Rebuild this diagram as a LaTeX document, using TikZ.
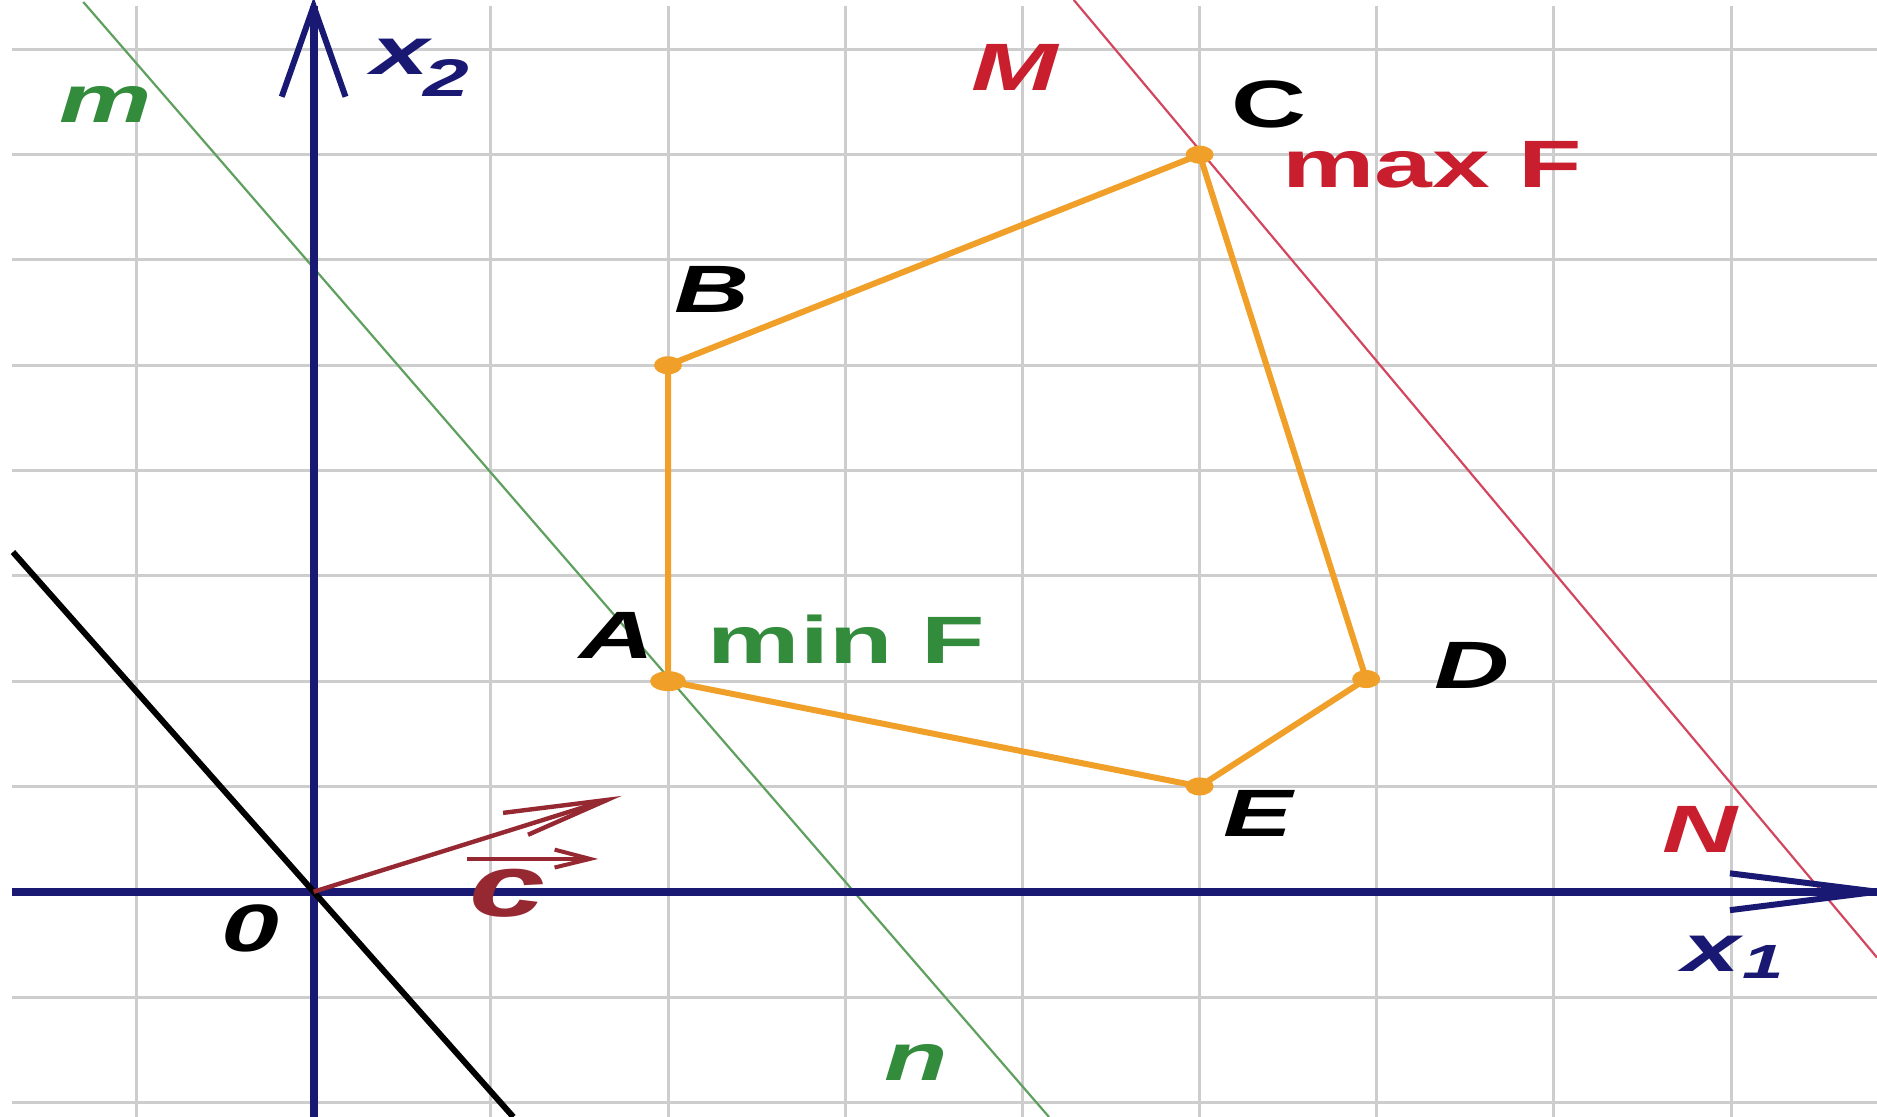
\documentclass[tikz,border=0pt]{standalone}
\usepackage{fontspec}
\setmainfont{Liberation Sans}
\definecolor{navy}{RGB}{25,25,115}
\definecolor{gridgray}{RGB}{205,205,205}
\definecolor{lgreen}{RGB}{95,160,95}
\definecolor{tgreen}{RGB}{50,140,60}
\definecolor{lred}{RGB}{210,70,95}
\definecolor{tred}{RGB}{200,30,45}
\definecolor{vecred}{RGB}{150,40,50}
\definecolor{poly}{RGB}{240,160,40}
\newcommand\sx[1]{\scalebox{1.55}[1]{#1}}
\tikzset{
  gridline/.style={gridgray,line width=1.5pt},
  axisline/.style={navy,line width=4pt},
  lab/.style={inner sep=0pt,font=\fontsize{33.5}{40}\selectfont\bfseries\itshape},
  labup/.style={inner sep=0pt,font=\fontsize{33.5}{40}\selectfont\bfseries},
  vertexdot/.style={fill=poly},
}
\begin{document}
\begin{tikzpicture}[x=88.6pt,y=52.65pt,line cap=butt]
\useasboundingbox (-1.770,-2.139) rectangle (8.823,8.469);
\fill[white] (-1.770,-2.139) rectangle (8.823,8.469);
% grid
\foreach \i in {-1,...,8} \draw[gridline] (\i,-2.139) -- (\i,8.412);
\foreach \j in {-2,...,8} \draw[gridline] (-1.70,\j) -- (8.823,\j);
% level lines
\draw[lgreen,line width=1.1pt] (-1.30,8.45) -- (4.15,-2.139);
\draw[lred,line width=1.1pt] (4.29,8.469) -- (8.823,-0.625);
% axes
\coordinate (O) at (0,0);
\coordinate (xt) at (8.823,0);
\coordinate (yt) at (0,8.41);
\draw[axisline] (-1.70,0) -- (xt);
\draw[axisline] (0,-2.139) -- (yt);
\draw[navy,line width=3pt,line join=miter] (7.993,0.175) -- (xt) -- (7.993,-0.175);
\draw[navy,line width=3pt,line join=miter] (-0.18,7.55) -- (yt) -- (0.18,7.55);
% zero level line
\draw[black,line width=3pt] (-1.697,3.226) -- (O) -- (1.127,-2.139);
% vector c
\coordinate (ct) at (1.656,0.872);
\draw[vecred,line width=2.2pt] (O) -- (ct);
\draw[vecred,line width=2.2pt,line join=miter] (1.069,0.749) -- (ct) -- (1.210,0.541);
% polygon
\coordinate (A) at (2,2);
\coordinate (B) at (2,5);
\coordinate (C) at (5,7);
\coordinate (D) at (5.94,2.02);
\coordinate (E) at (5,1);
\draw[poly,line width=3pt,line join=round] (A) -- (B) -- (C) -- (D) -- (E) -- cycle;
\fill[vertexdot] (A) ellipse [x radius=9pt,y radius=5pt];
\foreach \p in {B,C,D,E} \fill[vertexdot] (\p) ellipse [x radius=7pt,y radius=4.5pt];
% labels
\node[lab,text=tgreen] (lm) at (-1.171,7.475) {\sx{m}};
\node[lab,text=tgreen] (ln) at (3.398,-1.619) {\sx{n}};
\node[lab,text=tred] (lM) at (3.958,7.827) {\sx{M}};
\node[lab,text=tred] (lN) at (7.822,0.596) {\sx{N}};
\node[labup] (lC) at (5.390,7.475) {\sx{C}};
\node[labup,text=tred] (lmax) at (6.313,6.90) {\sx{max F}};
\node[lab] (lB) at (2.249,5.718) {\sx{B}};
\node[lab] (lA) at (1.712,2.433) {\sx{A}};
\node[labup,text=tgreen] (lmin) at (3.006,2.399) {\sx{min F}};
\node[lab] (lD) at (6.539,2.149) {\sx{D}};
\node[lab] (lE) at (5.330,0.739) {\sx{E}};
\node[lab] (l0) at (-0.358,-0.352) {\sx{0}};
\node[lab,text=navy,anchor=base west] (lx2) at (0.324,7.766) {\sx{x}\kern-3pt\raisebox{-11pt}{\fontsize{26.5}{30}\selectfont\sx{2}}};
\node[lab,text=navy,anchor=base west] (lx1) at (7.722,-0.762) {\sx{x}\kern1pt\raisebox{-3.5pt}{\fontsize{24}{28}\selectfont\sx{1}}};
\node[inner sep=0pt,font=\fontsize{44}{50}\selectfont\bfseries\itshape,text=vecred] (lc) at (1.091,-0.011) {\sx{c}};
\coordinate (cat) at (1.560,0.312);
\draw[vecred,line width=2pt] (0.866,0.312) -- (cat);
\draw[vecred,line width=2pt,line join=miter] (1.36,0.40) -- (cat) -- (1.36,0.23);
\end{tikzpicture}
\end{document}
